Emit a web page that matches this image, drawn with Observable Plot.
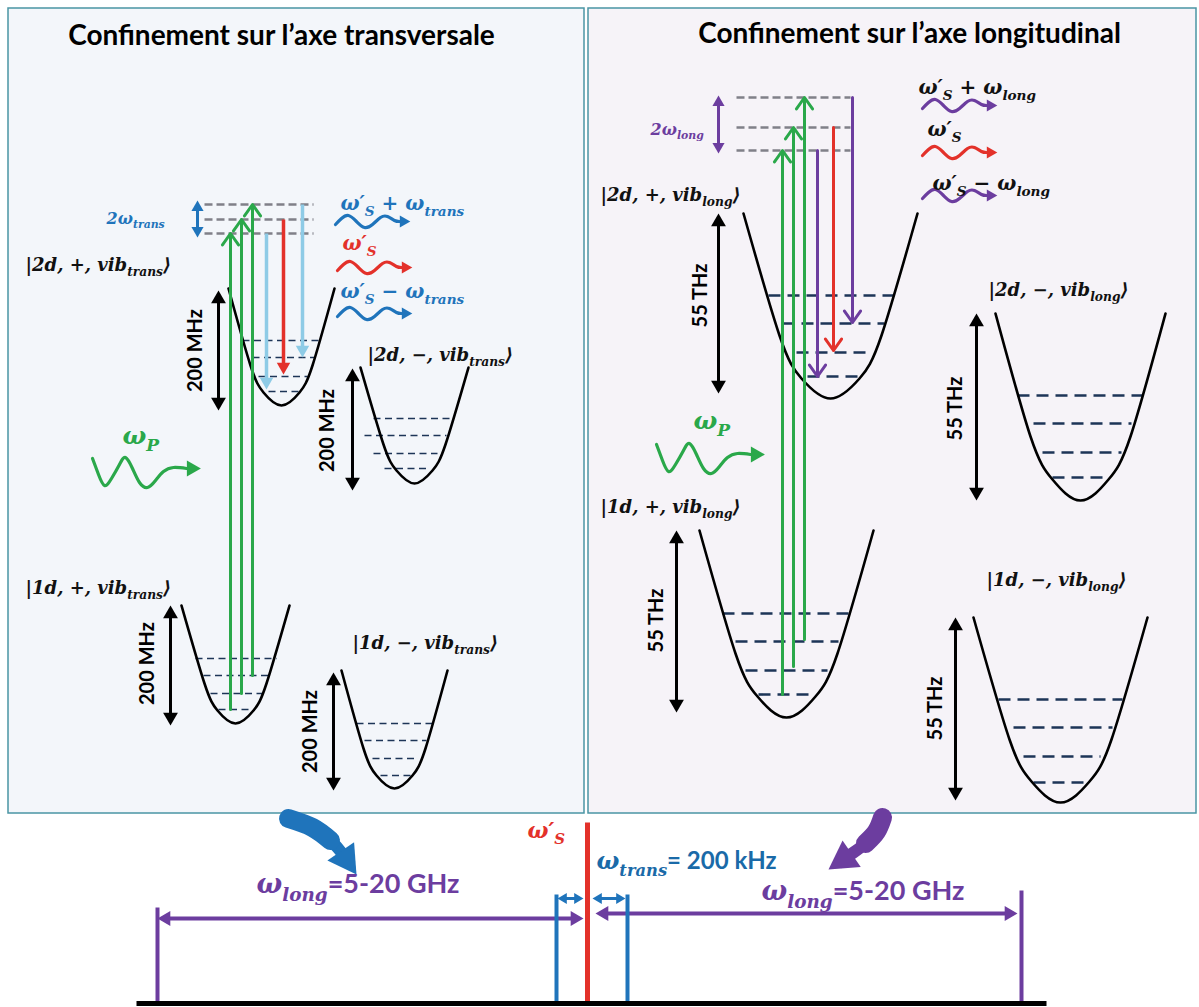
<!DOCTYPE html>
<html><head><meta charset="utf-8">
<script src="https://cdn.jsdelivr.net/npm/d3@7"></script>
<script src="https://cdn.jsdelivr.net/npm/@observablehq/plot@0.6"></script>
<style>html,body{margin:0;padding:0;background:#fff}</style>
</head><body><div id="chart"></div>
<script>
// ---------- data (diagram coordinates) ----------
const panels = [
  {panel: "trans", x1: 8, y1: 8, x2: 584, y2: 813},
  {panel: "long", x1: 588, y1: 8, x2: 1196, y2: 813}
];
const titles = [
  {text: "Confinement sur l’axe transversale", x: 281, y: 36},
  {text: "Confinement sur l’axe longitudinal", x: 909, y: 34}
];
// potential wells: sampled outline points (left rim, walls, bottom, right rim)
const wells = [
  {id: "L2p", pts: [[228,288],[250,365],[263,392],[281,405],[299,392],[312,365],[334,288]]},
  {id: "L2m", pts: [[360,367],[383,444],[396,470],[414,483],[432,470],[445,444],[468,367]]},
  {id: "L1p", pts: [[181,605],[204,683],[217,710],[235,723],[253,710],[266,683],[289,605]]},
  {id: "L1m", pts: [[341,670],[363,748],[376,775],[394,788],[412,775],[425,748],[447,670]]},
  {id: "R2p", pts: [[743,213],[779,335],[801,378],[830,398],[859,378],[881,335],[917,213]]},
  {id: "R2m", pts: [[995,313],[1030,436],[1052,479],[1080,500],[1108,479],[1130,436],[1165,313]]},
  {id: "R1p", pts: [[699,530],[735,653],[757,696],[786,717],[815,696],[837,653],[873,530]]},
  {id: "R1m", pts: [[973,617],[1009,739],[1031,781],[1060,802],[1089,781],[1111,739],[1147,617]]}
];
// vibrational levels [x1, x2, y]
const levelsTrans = [
  [242,320,340],[252,315,357],[258,307,376],[268,298,391],
  [373,453,418],[364,446,435],[373,437,453],[384,428,468],
  [195,276,658],[203,268,675],[210,262,693],[218,252,709],
  [356,433,723],[364,426,740],[372,418,758],[380,410,775]
];
const levelsLong = [
  [768,893,295],[782,884,323],[796,872,352],[807,858,376],
  [1017,1142,395],[1033,1131,423],[1042,1121,452],[1052,1106,477],
  [722,850,613],[735,838,641],[745,827,670],[758,812,694],
  [998,1122,699],[1013,1112,727],[1023,1100,756],[1033,1087,782]
];
// virtual levels [x1, x2, y]
const virtualLevels = [
  [204,313,204],[204,313,219],[204,313,233],
  [736,850,97],[736,850,127],[736,850,150]
];
// pump transitions (up) [x, yFrom, yTo]
const pump = [
  [230,709,233],[241,693,219],[252,675,204],
  [782,694,150],[793,666,127],[804,639,97]
];
// emission transitions (down) [x, yFrom, yTo, kind]
const emissionTrans = [[266,233,389,"side"],[283,219,374,"s"],[302,204,357,"side"]];
const emissionLong = [[817,150,376,"side"],[833,127,350,"s"],[852,97,322,"side"]];
// level spacing double arrows [x, yTop, yBottom, label]
const spacing = [
  [218,290,410,"200 MHz"],[352,368,490,"200 MHz"],[170,605,725,"200 MHz"],[333,672,790,"200 MHz"],
  [718,213,393,"55 THz"],[976,313,500,"55 THz"],[676,530,712,"55 THz"],[955,617,800,"55 THz"]
];
const spacingLabelPos = [[195,350],[327,430],[147,663],[310,731],[700,295],[955,408],[656,620],[935,708]];
// 2ω double arrows [x, yTop, yBottom, kind]
const twoOmega = [[197,200,237,"trans"],[718,95,153,"long"]];
// state labels
const kets = [
  {t: "|2d, +, vib_{trans}⟩", x: 25, y: 265},
  {t: "|2d, −, vib_{trans}⟩", x: 367, y: 355},
  {t: "|1d, +, vib_{trans}⟩", x: 25, y: 588},
  {t: "|1d, −, vib_{trans}⟩", x: 352, y: 643},
  {t: "|2d, +, vib_{long}⟩", x: 600, y: 195},
  {t: "|2d, −, vib_{long}⟩", x: 988, y: 290},
  {t: "|1d, +, vib_{long}⟩", x: 600, y: 507},
  {t: "|1d, −, vib_{long}⟩", x: 986, y: 580}
];
const mathLabels = [
  {t: "2ω_{trans}", x: 106, y: 218, kind: "trans", size: "small"},
  {t: "ω′_{S} + ω_{trans}", x: 340, y: 203, kind: "trans", size: "mid"},
  {t: "ω′_{S}", x: 342, y: 243, kind: "s", size: "mid"},
  {t: "ω′_{S} − ω_{trans}", x: 340, y: 291, kind: "trans", size: "mid"},
  {t: "2ω_{long}", x: 650, y: 129, kind: "long", size: "small"},
  {t: "ω′_{S} + ω_{long}", x: 918, y: 87, kind: "black", size: "mid"},
  {t: "ω′_{S}", x: 927, y: 129, kind: "black", size: "mid"},
  {t: "ω′_{S} − ω_{long}", x: 932, y: 183, kind: "black", size: "mid"},
  {t: "ω_{P}", x: 122, y: 435, kind: "pump", size: "big"},
  {t: "ω_{P}", x: 693, y: 420, kind: "pump", size: "big"}
];
// wavy photon arrows [x, y, kind, shape]
const photons = [
  [335,221,"trans","small"],[337,267,"s","small"],[337,313,"trans","small"],
  [922,105,"long","small"],[922,152,"s","small"],[922,195,"long","small"],
  [92,472,"pump","big"],[656,458,"pump","big"]
];
const waveSmall = [[0,3],[6,-3],[13,-6],[21,0],[29,6],[37,3],[45,-4],[52,-5],[59,-1],[64,0]];
const waveBig = [[0,-14],[6,2],[12,13],[19,6],[27,-8],[33,-15],[40,-4],[47,10],[55,15],[63,8],[71,-1],[81,-5],[94,-4]];
// bottom spectrum
const baseline = [136, 1046, 1003];
const spectrumLines = [[157,907,"long"],[1021,890,"long"],[556,894,"trans"],[627,894,"trans"],[587,822,"s"]];
const spectrumArrows = [[157,583,918,"long"],[595,1017,913,"long"],[557,583,898,"trans"],[592,625,898,"trans"]];
// curved block arrows: centreline points, then tip
const swooshes = [
  {kind: "trans", pts: [[288,818],[312,827],[330,840],[341,852]], tip: [356,874]},
  {kind: "long", pts: [[882,817],[876,831],[865,843],[853,852]], tip: [828,869]}
];
const bottomLabels = [
  {t: "ω′_{S}", x: 527, y: 830, kind: "s", size: 22},
  {t: "ω_{trans}§= 200 kHz", x: 596, y: 861, kind: "transDark", size: 24},
  {t: "ω_{long}§=5-20 GHz", x: 256, y: 884, kind: "long", size: 27},
  {t: "ω_{long}§=5-20 GHz", x: 761, y: 891, kind: "long", size: 27}
];

// ---------- styles ----------
const color = {
  trans: "#1f74bb", transDark: "#1a6aa8", s: "#e3312a", long: "#6c3d9f", black: "#111",
  pump: "#2aa84a", lightBlue: "#8ecbe6"
};
const panelFill = {trans: "#f3f6fa", long: "#f6f3f8"};
const mathSize = {small: 16, mid: 20, big: 25};
const serif = "'DejaVu Serif', 'Liberation Serif', serif";
const sans = "Lato, 'Open Sans', sans-serif";

// ---------- derived mark tables ----------
const wellRows = wells.flatMap(w => w.pts.map(([x, y]) => ({id: w.id, x, y})));
const toLevel = ([x1, x2, y]) => ({x1, x2, y});
const heads = []; // filled triangular arrow heads
function head(x1, y1, x2, y2, r, fill) {
  const L = Math.hypot(x2 - x1, y2 - y1), ux = (x2 - x1) / L, uy = (y2 - y1) / L;
  const d = 1.555 * r;
  heads.push({x: x2 - ux * d, y: y2 - uy * d, rot: Math.atan2(ux, -uy) * 180 / Math.PI, r, fill});
  return {x: x2 - ux * d * 0.6, y: y2 - uy * d * 0.6};
}
const shafts = [];
function dbl(x1, y1, x2, y2, stroke, sw, r) {
  const mx = (x1 + x2) / 2, my = (y1 + y2) / 2;
  const a = head(mx, my, x1, y1, r, stroke), b = head(mx, my, x2, y2, r, stroke);
  shafts.push({x1: a.x, y1: a.y, x2: b.x, y2: b.y, stroke, sw});
}
spacing.forEach(([x, y1, y2]) => dbl(x, y1, x, y2, "#000", 3, 5.5));
twoOmega.forEach(([x, y1, y2, k]) => dbl(x, y1, x, y2, color[k], 3, 4.5));
emissionTrans.forEach(([x, y1, y2, k]) => {
  const c = k === "s" ? color.s : color.lightBlue;
  const e = head(x, y1, x, y2, 5, c);
  shafts.push({x1: x, y1, x2: e.x, y2: e.y, stroke: c, sw: 3.5});
});
spectrumArrows.forEach(([x1, x2, y, k]) => dbl(x1, y, x2, y, color[k], k === "long" ? 4 : 3, k === "long" ? 5.5 : 4));
spectrumLines.forEach(([x, y1, k]) => shafts.push({x1: x, y1, x2: x, y2: baseline[2], stroke: color[k], sw: k === "s" ? 5 : 4}));
shafts.push({x1: baseline[0], y1: baseline[2], x2: baseline[1], y2: baseline[2], stroke: "#000", sw: 5});

const waveRows = [];
photons.forEach(([x0, y0, k, shape], i) => {
  const tpl = shape === "big" ? waveBig : waveSmall;
  const c = color[k];
  tpl.forEach(([dx, dy]) => waveRows.push({id: i, x: x0 + dx, y: y0 + dy, c}));
  const [lx, ly] = tpl[tpl.length - 1];
  const r = shape === "big" ? 6 : 4.5;
  head(x0 + lx, y0 + ly, x0 + lx + 2.4 * r, y0 + ly, r, c);
});

const swooshRows = [], swooshTails = [];
swooshes.forEach((s, i) => {
  const c = color[s.kind];
  const last = s.pts[s.pts.length - 1];
  const e = head(last[0], last[1], s.tip[0], s.tip[1], 12, c);
  [...s.pts, [e.x, e.y]].forEach(([x, y]) => swooshRows.push({id: i, x, y, c}));
  s.pts.slice(0, 3).forEach(([x, y]) => swooshTails.push({id: i, x, y, c}));
});

// ---------- chart ----------
const chart = Plot.plot({
  width: 1199, height: 1007, margin: 0,
  x: {domain: [0, 1199], range: [0, 1199], axis: null},
  y: {domain: [0, 1007], range: [0, 1007], axis: null},
  r: {type: "identity"},
  style: {background: "#fff", overflow: "visible"},
  marks: [
    Plot.rect(panels, {x1: "x1", x2: "x2", y1: "y1", y2: "y2", fill: d => panelFill[d.panel], stroke: "#4a95a4", strokeWidth: 1.5}),
    Plot.text(titles, {x: "x", y: "y", text: "text", fontSize: 28, fontWeight: "bold", fontFamily: sans, fill: "#000"}),
    Plot.link(virtualLevels.map(toLevel), {x1: "x1", x2: "x2", y1: "y", y2: "y", stroke: "#808088", strokeWidth: 2.5, strokeDasharray: "8,4"}),
    Plot.link(levelsTrans.map(toLevel), {x1: "x1", x2: "x2", y1: "y", y2: "y", stroke: "#1d3557", strokeWidth: 1.6, strokeDasharray: "7,4.5"}),
    Plot.link(levelsLong.map(toLevel), {x1: "x1", x2: "x2", y1: "y", y2: "y", stroke: "#1d3557", strokeWidth: 2.6, strokeDasharray: "12,7"}),
    Plot.line(wellRows, {x: "x", y: "y", z: "id", curve: "natural", stroke: "#000", strokeWidth: 2.6}),
    Plot.arrow(pump, {x1: d => d[0], x2: d => d[0], y1: d => d[1], y2: d => d[2], stroke: color.pump, strokeWidth: 3, headLength: 7, headAngle: 70}),
    Plot.arrow(emissionLong, {x1: d => d[0], x2: d => d[0], y1: d => d[1], y2: d => d[2], stroke: d => d[3] === "s" ? color.s : color.long, strokeWidth: 3, headLength: 7, headAngle: 70}),
    Plot.line(swooshRows, {x: "x", y: "y", z: "id", curve: "natural", stroke: d => d.c, strokeWidth: 12, strokeLinecap: "butt"}),
    Plot.line(swooshTails, {x: "x", y: "y", z: "id", curve: "natural", stroke: d => d.c, strokeWidth: 19, strokeLinecap: "round"}),
    Plot.link(shafts, {x1: "x1", y1: "y1", x2: "x2", y2: "y2", stroke: d => d.stroke, strokeWidth: d => d.sw}),
    Plot.line(waveRows, {x: "x", y: "y", z: "id", stroke: d => d.c, curve: "natural", strokeWidth: 3.2}),
    Plot.dot(heads, {x: "x", y: "y", r: "r", rotate: "rot", symbol: "triangle", fill: d => d.fill, stroke: null}),
    Plot.text(spacing.map((d, i) => ({t: d[3], x: spacingLabelPos[i][0], y: spacingLabelPos[i][1]})), {x: "x", y: "y", text: "t", rotate: -90, fontSize: 20, fontWeight: "bold", fontFamily: sans, fill: "#000"}),
    Plot.text(kets, {x: "x", y: "y", text: "t", textAnchor: "start", fontSize: 18, fontWeight: "bold", fontStyle: "italic", fontFamily: serif, fill: "#111"}),
    ...["small", "mid", "big"].map(sz => Plot.text(mathLabels.filter(d => d.size === sz), {x: "x", y: "y", text: "t", textAnchor: "start", fontSize: mathSize[sz], fontWeight: "bold", fontStyle: "italic", fontFamily: serif, fill: d => color[d.kind]})),
    ...[22, 24, 27].map(sz => Plot.text(bottomLabels.filter(d => d.size === sz), {x: "x", y: "y", text: "t", textAnchor: "start", fontSize: sz, fontWeight: "bold", fontStyle: "italic", fontFamily: serif, fill: d => color[d.kind]}))
  ]
});
document.getElementById("chart").appendChild(chart);

// rich text: _{...} subscript, § toggles upright sans
(function richify(root) {
  const NS = "http://www.w3.org/2000/svg";
  root.querySelectorAll("text").forEach(t => {
    const s = t.textContent;
    if (!/[_§]/.test(s)) return;
    const fs = parseFloat(getComputedStyle(t).fontSize) || 16;
    while (t.firstChild) t.removeChild(t.firstChild);
    let isSans = false, shift = 0, buf = "", i = 0;
    const add = (str, sub) => {
      if (!str) return;
      const ts = document.createElementNS(NS, "tspan");
      ts.textContent = str;
      const target = sub ? fs * 0.28 : 0;
      if (target !== shift) ts.setAttribute("dy", target - shift);
      shift = target;
      if (sub) ts.setAttribute("font-size", fs * 0.68);
      if (isSans) {
        ts.setAttribute("font-family", "Lato, 'Open Sans', sans-serif");
        ts.setAttribute("font-style", "normal");
        ts.setAttribute("font-weight", "bold");
      }
      t.appendChild(ts);
    };
    while (i < s.length) {
      if (s[i] === "_" && s[i + 1] === "{") {
        add(buf, false); buf = "";
        const j = s.indexOf("}", i);
        add(s.slice(i + 2, j), true);
        i = j + 1;
      } else if (s[i] === "§") {
        add(buf, false); buf = ""; isSans = !isSans; i++;
      } else { buf += s[i]; i++; }
    }
    add(buf, false);
  });
})(chart);
</script></body></html>
